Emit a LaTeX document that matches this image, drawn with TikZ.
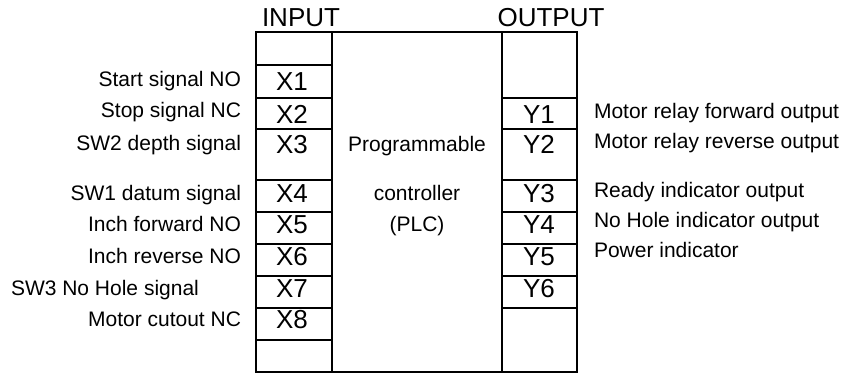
\documentclass[tikz,border=0pt]{standalone}
\usepackage{fontspec}
\setmainfont{Liberation Sans}
\tikzset{
  big/.style={font=\fontsize{26}{28}\selectfont, inner sep=0pt, anchor=base},
  small/.style={font=\fontsize{21}{24}\selectfont, inner sep=0pt},
}
\begin{document}
\begin{tikzpicture}[x=1pt, y=-1pt, line width=2pt]
        \useasboundingbox (0,0) rectangle (843,375);
        % PLC body and I/O columns
        \draw (256,32) rectangle (577,372);
        \draw (332,32) -- (332,372);
        \draw (502,32) -- (502,372);
        \foreach \y in {65,98,129,180,212,244,276,308,340}
          \draw (256,\y) -- (332,\y);
        \foreach \y in {98,129,180,212,244,276,308}
          \draw (502,\y) -- (577,\y);
        \node[big] (input) at (301,26) {INPUT};
        \node[big] (output) at (551,26.5) {OUTPUT};
        \foreach \n/\y in {1/90,2/123,3/153,4/202,5/233,6/265,7/297,8/328}
          \node[big] (x\n) at (292,\y) {X\n};
        \foreach \n/\y in {1/123,2/153,3/202,4/233,5/265,6/297}
          \node[big] (y\n) at (539,\y) {Y\n};
        \node[small, anchor=base] (prog) at (417,151) {Programmable};
        \node[small, anchor=base] (ctrl) at (417,200) {controller};
        \node[small, anchor=base] (plc) at (417,231) {(PLC)};
        % input signals
        \node[small, anchor=base east] (start) at (242,86.5) {Start signal NO};
        \node[small, anchor=base east] (stop) at (242,117.5) {Stop signal NC};
        \node[small, anchor=base east] (sw2) at (242,150) {SW2 depth signal};
        \node[small, anchor=base east] (sw1) at (242,200) {SW1 datum signal};
        \node[small, anchor=base east] (inchf) at (242,231.5) {Inch forward NO};
        \node[small, anchor=base east] (inchr) at (242,263) {Inch reverse NO};
        \node[small, anchor=base west] (sw3) at (10,295) {SW3 No Hole signal};
        \node[small, anchor=base east] (cutout) at (242,326.5) {Motor cutout NC};
        % output signals
        \node[small, anchor=base west] (fwd) at (593,118) {Motor relay forward output};
        \node[small, anchor=base west] (rev) at (593,148) {Motor relay reverse output};
        \node[small, anchor=base west] (ready) at (593,197) {Ready indicator output};
        \node[small, anchor=base west] (nohole) at (593,227) {No Hole indicator output};
        \node[small, anchor=base west] (power) at (593,257) {Power indicator};
\end{tikzpicture}
\end{document}
